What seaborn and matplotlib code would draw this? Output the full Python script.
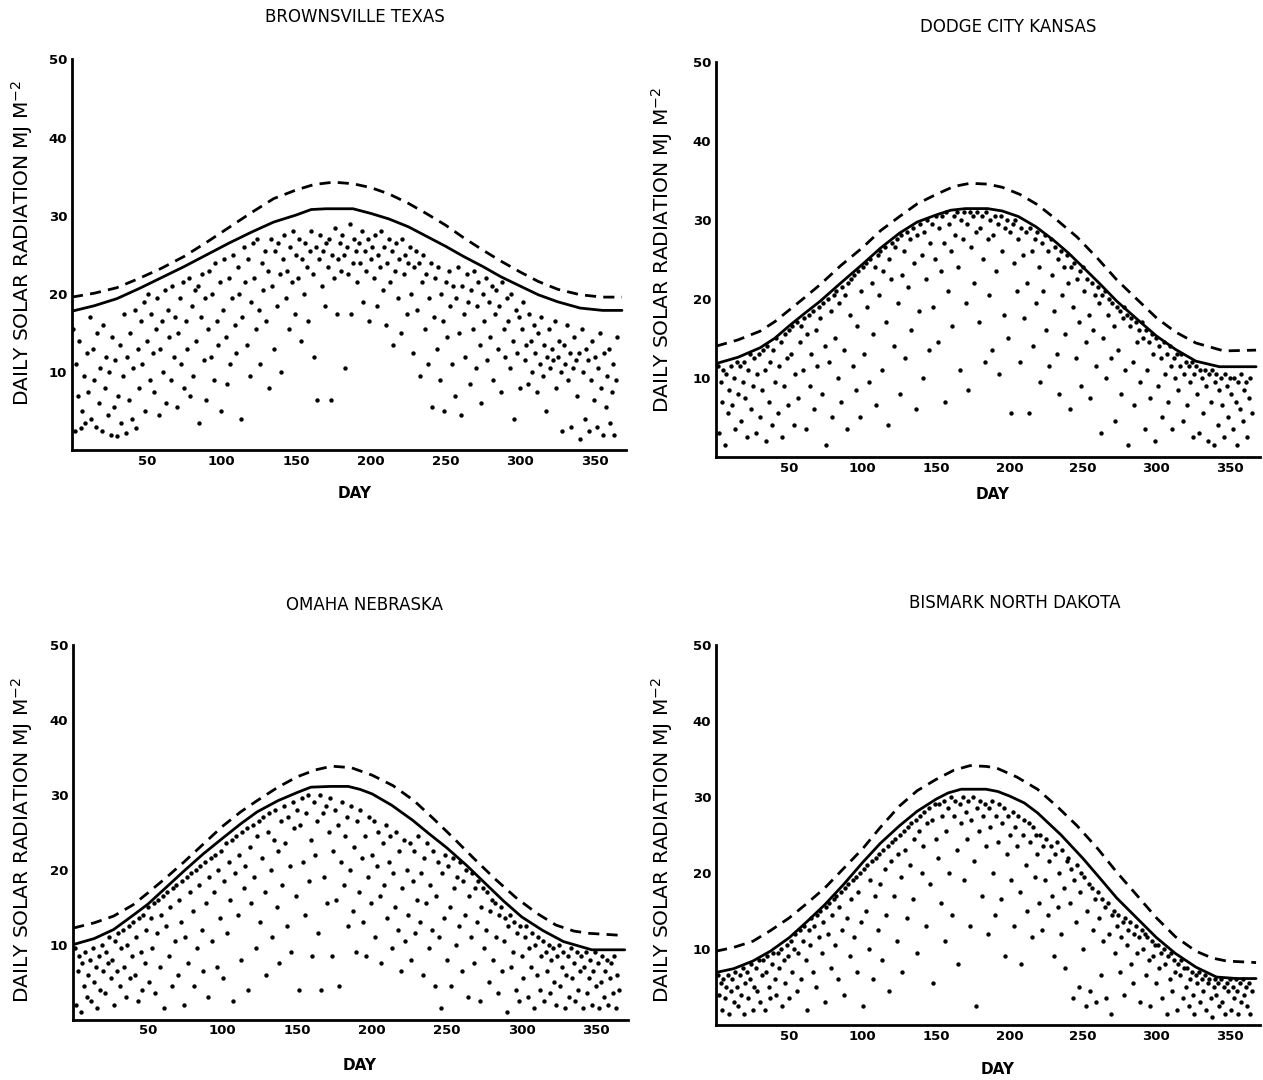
import numpy as np
import matplotlib
matplotlib.use("Agg")
import matplotlib.pyplot as plt
import seaborn as sns

# day of year for the daily observations
DAYS = np.arange(1, 366)

# ── Brownsville, Texas ─────────────────────────────
BRO_MJ = [
    15.5, 2.5, 11.0, 7.0, 14.0, 2.8, 5.0, 9.5, 3.5, 12.5,
    7.5, 17.0, 4.0, 13.0, 9.0, 3.0, 15.0, 6.0, 10.5, 2.5,
    16.0, 8.0, 12.0, 4.5, 10.0, 2.0, 14.5, 5.5, 11.5, 1.8,
    7.0, 13.5, 3.5, 9.5, 17.5, 2.2, 12.0, 6.5, 15.0, 4.0,
    10.5, 18.0, 2.8, 13.0, 8.0, 16.5, 11.0, 19.0, 5.0, 14.0,
    20.0, 9.0, 17.5, 12.5, 7.5, 15.5, 19.5, 4.5, 13.0, 16.5,
    10.0, 20.5, 6.0, 18.0, 14.5, 9.0, 21.0, 12.0, 17.0, 5.5,
    15.0, 19.5, 11.0, 21.5, 8.0, 16.5, 13.0, 22.0, 7.0, 18.5,
    9.5, 20.5, 14.0, 21.0, 3.5, 17.0, 22.5, 11.5, 19.5, 6.5,
    15.5, 23.0, 12.0, 20.0, 9.0, 24.0, 16.5, 13.5, 21.5, 5.0,
    18.0, 24.5, 14.5, 8.5, 22.0, 11.0, 19.5, 25.0, 16.0, 12.5,
    23.5, 20.0, 4.0, 17.0, 26.0, 21.5, 13.5, 24.5, 9.5, 19.0,
    26.5, 22.0, 15.5, 27.0, 18.0, 11.0, 24.0, 20.5, 25.5, 16.5,
    23.0, 8.0, 27.0, 21.0, 13.0, 25.5, 18.5, 26.5, 22.5, 10.0,
    24.5, 27.5, 19.5, 23.0, 15.5, 26.0, 21.5, 28.0, 17.5, 25.0,
    22.0, 27.0, 14.0, 24.5, 20.0, 26.5, 23.5, 16.5, 25.5, 28.0,
    22.5, 12.0, 26.0, 6.5, 24.5, 27.5, 21.0, 25.5, 18.5, 26.5,
    23.5, 27.0, 6.5, 25.0, 22.0, 28.5, 17.5, 24.5, 26.5, 23.0,
    27.5, 25.0, 10.5, 26.0, 22.5, 29.0, 17.5, 24.0, 27.0, 25.5,
    21.5, 26.5, 24.0, 28.0, 19.0, 25.5, 23.0, 27.0, 16.5, 24.5,
    26.0, 22.0, 27.5, 18.5, 25.0, 23.5, 28.0, 20.5, 26.0, 16.0,
    24.0, 27.0, 21.5, 25.5, 13.5, 23.0, 26.5, 19.5, 24.5, 15.0,
    27.0, 22.5, 25.0, 17.5, 24.0, 26.0, 20.0, 12.5, 23.5, 25.5,
    18.0, 24.0, 9.5, 21.5, 25.0, 15.5, 22.5, 11.0, 19.5, 24.0,
    5.5, 17.0, 22.0, 13.0, 23.5, 9.0, 20.0, 16.5, 5.0, 21.5,
    14.5, 23.0, 18.5, 11.0, 21.0, 7.0, 19.5, 23.5, 15.0, 4.5,
    21.0, 17.5, 12.0, 22.5, 19.0, 8.5, 20.5, 15.5, 23.0, 10.5,
    18.5, 21.5, 13.5, 6.0, 20.0, 16.5, 22.0, 11.5, 19.0, 14.5,
    21.0, 9.0, 17.5, 20.5, 13.0, 18.5, 7.5, 21.5, 15.5, 12.0,
    19.5, 16.5, 10.5, 20.0, 14.0, 4.0, 18.0, 12.5, 17.0, 8.0,
    15.5, 19.0, 11.5, 13.5, 8.5, 17.5, 14.0, 10.0, 16.0, 12.5,
    7.5, 15.0, 11.0, 17.0, 9.5, 13.5, 5.0, 12.0, 15.5, 10.5,
    13.0, 11.5, 16.5, 8.0, 12.0, 14.0, 10.0, 2.5, 13.5, 11.0,
    16.0, 9.0, 12.5, 3.0, 10.5, 14.5, 11.5, 7.0, 12.5, 1.5,
    15.5, 10.0, 4.0, 13.0, 11.5, 2.5, 9.0, 14.0, 6.5, 12.0,
    3.0, 10.5, 15.0, 8.0, 2.0, 12.5, 5.5, 9.5, 13.0, 3.5,
    7.5, 11.0, 2.0, 9.0, 14.5,
]
BRO_CLEAR_DAYS = [0, 15, 30, 45, 60, 75, 90, 105, 120, 135, 150, 160, 170, 188, 200, 212,
                  225, 237, 250, 262, 275, 287, 300, 312, 325, 340, 355, 368]
BRO_CLEAR_MJ = [17.8, 18.5, 19.4, 20.7, 22.1, 23.5, 25.0, 26.5, 27.9, 29.2, 30.1, 30.8, 30.9, 30.9,
                30.3, 29.6, 28.6, 27.4, 26.1, 24.8, 23.5, 22.2, 21.0, 19.9, 19.0, 18.2, 17.9, 17.9]
BRO_TOP_DAYS = [0, 15, 30, 45, 60, 75, 90, 105, 120, 135, 150, 162, 175, 188, 200, 212,
                225, 237, 250, 262, 275, 287, 300, 312, 325, 340, 355, 368]
BRO_TOP_MJ = [19.6, 20.1, 20.8, 22.0, 23.3, 24.8, 26.6, 28.5, 30.4, 32.2, 33.3, 34.0, 34.3, 34.1,
              33.6, 32.8, 31.6, 30.3, 28.8, 27.2, 25.6, 24.2, 22.8, 21.6, 20.6, 19.9, 19.6, 19.6]

# ── Dodge City, Kansas ─────────────────────────────
DDC_MJ = [
    11.5, 3.0, 9.5, 7.0, 11.0, 1.5, 10.5, 5.5, 8.5, 11.5,
    6.5, 10.0, 3.5, 12.0, 8.0, 11.5, 4.5, 9.5, 12.0, 7.5,
    2.5, 11.0, 13.0, 6.0, 9.0, 12.5, 3.0, 10.5, 13.0, 5.0,
    8.5, 13.5, 11.0, 2.0, 14.0, 7.0, 12.0, 4.0, 13.5, 9.5,
    15.0, 5.5, 11.5, 14.5, 2.5, 9.0, 15.5, 12.5, 6.5, 16.0,
    13.0, 16.5, 4.0, 10.5, 17.0, 7.5, 14.5, 16.5, 11.0, 17.5,
    3.5, 15.5, 18.0, 9.0, 13.0, 18.5, 6.0, 16.0, 11.5, 19.0,
    17.5, 8.0, 19.5, 14.0, 1.5, 20.0, 12.0, 18.5, 5.0, 20.5,
    15.0, 21.0, 10.0, 19.5, 7.0, 21.5, 13.5, 20.5, 3.5, 22.0,
    18.0, 22.5, 11.5, 23.0, 8.5, 16.5, 23.5, 5.0, 21.0, 24.0,
    13.0, 24.5, 19.0, 9.5, 25.0, 22.0, 15.5, 24.0, 6.5, 25.5,
    20.5, 26.0, 11.0, 23.5, 26.5, 17.0, 4.0, 25.0, 22.5, 27.0,
    14.0, 26.5, 27.5, 19.5, 8.0, 28.0, 23.0, 26.0, 12.5, 28.5,
    21.5, 27.5, 16.0, 29.0, 24.5, 6.0, 28.0, 18.5, 29.5, 25.5,
    10.0, 28.5, 22.5, 30.0, 13.5, 27.0, 29.5, 19.0, 25.0, 30.5,
    14.5, 29.0, 23.5, 30.5, 27.0, 7.0, 31.0, 21.0, 29.5, 26.0,
    16.5, 30.5, 28.0, 31.0, 24.0, 11.0, 30.0, 27.5, 31.0, 19.5,
    29.5, 8.5, 31.0, 26.5, 30.5, 22.0, 28.5, 31.0, 17.0, 29.0,
    30.5, 25.0, 12.0, 31.0, 27.5, 20.5, 30.0, 13.5, 28.0, 30.5,
    23.5, 29.5, 10.5, 30.5, 26.0, 18.0, 29.0, 30.0, 15.0, 28.5,
    5.5, 29.5, 24.5, 30.0, 21.0, 27.5, 12.0, 29.0, 25.5, 17.5,
    28.5, 22.0, 5.5, 29.0, 26.0, 14.0, 27.5, 19.5, 28.5, 24.0,
    9.5, 27.0, 21.0, 28.0, 16.0, 26.0, 11.5, 27.5, 23.0, 18.5,
    26.5, 13.0, 25.0, 8.0, 26.0, 20.5, 24.0, 15.5, 25.5, 22.0,
    6.0, 24.0, 19.0, 24.5, 12.5, 22.5, 17.0, 23.5, 9.0, 24.0,
    21.0, 14.5, 22.5, 18.0, 7.5, 22.0, 16.0, 20.5, 11.5, 21.5,
    19.5, 3.0, 20.5, 15.0, 21.0, 10.0, 18.0, 20.0, 12.5, 19.5,
    16.5, 4.5, 19.0, 13.5, 18.5, 8.0, 17.5, 19.0, 11.0, 18.0,
    1.5, 16.5, 17.5, 12.0, 6.5, 17.0, 14.5, 16.0, 9.5, 17.0,
    15.0, 3.5, 16.0, 11.0, 14.5, 7.5, 15.5, 13.0, 2.0, 15.0,
    9.0, 14.0, 12.5, 5.0, 14.5, 10.5, 13.0, 7.0, 14.0, 11.5,
    3.5, 12.5, 10.0, 13.0, 8.5, 11.5, 13.0, 4.5, 10.5, 12.0,
    6.5, 11.5, 9.5, 12.0, 2.5, 10.5, 11.5, 8.0, 3.0, 11.0,
    10.0, 5.5, 11.0, 9.0, 2.0, 10.5, 7.0, 11.0, 1.5, 9.5,
    10.5, 4.0, 8.5, 10.0, 6.5, 2.5, 10.5, 9.0, 5.0, 10.0,
    8.0, 3.5, 10.0, 7.0, 1.5, 9.5, 6.0, 10.5, 4.5, 8.5,
    9.5, 2.5, 7.5, 10.0, 5.5,
]
DDC_CLEAR_DAYS = [0, 15, 30, 40, 50, 60, 71, 85, 100, 112, 125, 137, 150, 160, 170, 185, 195,
                  206, 218, 230, 240, 250, 262, 273, 287, 300, 313, 327, 343, 368]
DDC_CLEAR_MJ = [11.8, 12.6, 13.8, 15.0, 16.6, 18.1, 19.7, 22.0, 24.4, 26.4, 28.3, 29.7, 30.6, 31.2,
                31.4, 31.4, 31.1, 30.4, 29.1, 27.4, 25.8, 24.0, 21.8, 19.7, 17.4, 15.3, 13.6, 12.1,
                11.4, 11.4]
DDC_TOP_DAYS = [0, 15, 30, 40, 50, 60, 71, 85, 100, 112, 125, 137, 150, 162, 173, 185, 195,
                207, 219, 232, 246, 260, 273, 287, 300, 313, 327, 346, 368]
DDC_TOP_MJ = [14.0, 14.8, 15.9, 17.1, 18.6, 20.1, 21.8, 24.2, 26.5, 28.6, 30.4, 32.0, 33.2, 34.2,
              34.6, 34.5, 34.1, 33.2, 31.9, 30.0, 27.8, 25.1, 22.4, 19.9, 17.6, 15.8, 14.4, 13.4,
              13.5]

# ── Omaha, Nebraska ────────────────────────────────
OMA_MJ = [
    9.5, 2.0, 6.5, 8.5, 1.0, 7.5, 4.5, 9.0, 3.0, 6.0,
    8.0, 2.5, 9.5, 5.0, 7.0, 1.5, 8.5, 4.0, 10.0, 6.5,
    3.5, 9.0, 7.5, 11.0, 5.5, 8.0, 2.0, 10.5, 6.5, 11.5,
    4.5, 9.5, 12.0, 7.0, 3.0, 10.0, 12.5, 5.5, 8.5, 13.0,
    6.0, 11.0, 2.5, 13.5, 9.0, 4.0, 14.0, 7.5, 12.0, 15.0,
    5.0, 13.5, 9.5, 15.5, 3.5, 11.5, 16.0, 7.0, 14.0, 16.5,
    1.5, 12.5, 17.0, 8.5, 15.0, 4.5, 17.5, 10.5, 18.0, 6.0,
    16.0, 13.0, 18.5, 2.0, 11.0, 19.0, 7.5, 17.0, 19.5, 14.5,
    4.5, 20.0, 9.5, 18.0, 20.5, 12.0, 6.5, 21.0, 15.5, 3.0,
    19.0, 21.5, 10.5, 17.0, 22.0, 7.0, 20.0, 13.5, 22.5, 5.5,
    18.5, 23.5, 11.5, 21.0, 16.0, 24.0, 2.5, 19.5, 24.5, 14.0,
    22.0, 8.0, 25.0, 17.5, 20.5, 25.5, 4.0, 23.0, 15.5, 26.0,
    19.0, 9.5, 24.5, 26.5, 13.0, 21.5, 27.0, 17.0, 6.0, 25.0,
    27.5, 20.0, 11.0, 24.0, 28.0, 15.0, 22.5, 7.5, 26.5, 18.0,
    28.5, 23.5, 12.5, 27.0, 20.5, 9.0, 29.0, 25.5, 16.5, 28.0,
    4.0, 26.0, 29.5, 21.0, 14.0, 27.5, 30.0, 18.5, 24.0, 8.5,
    29.0, 22.0, 26.5, 11.5, 30.0, 4.0, 27.5, 19.0, 28.5, 15.5,
    25.0, 29.5, 8.5, 22.5, 28.0, 16.0, 26.0, 4.5, 21.0, 29.0,
    18.0, 24.5, 27.0, 12.5, 20.0, 28.5, 14.5, 23.0, 9.0, 26.5,
    17.0, 28.0, 21.5, 13.0, 24.5, 8.5, 19.0, 27.0, 15.5, 22.0,
    26.5, 11.0, 20.5, 25.0, 16.5, 7.5, 23.5, 18.0, 26.0, 13.5,
    21.0, 24.5, 9.5, 19.5, 15.0, 25.0, 12.0, 22.5, 6.5, 17.5,
    24.0, 10.5, 20.0, 14.0, 23.5, 8.0, 18.5, 22.5, 11.5, 16.0,
    24.5, 13.0, 19.5, 6.0, 21.5, 15.5, 23.5, 9.5, 18.0, 12.0,
    22.5, 4.5, 16.5, 21.0, 11.0, 1.5, 19.5, 13.5, 22.0, 8.0,
    20.5, 15.0, 4.5, 21.5, 17.5, 10.0, 19.0, 12.5, 21.0, 6.5,
    18.5, 14.0, 20.0, 3.0, 16.5, 11.0, 19.5, 7.5, 17.5, 13.0,
    18.5, 2.5, 15.0, 17.5, 9.5, 12.0, 17.0, 5.0, 14.5, 16.0,
    8.0, 15.5, 11.0, 3.5, 14.0, 15.0, 6.5, 10.5, 13.5, 1.0,
    12.5, 14.0, 7.0, 9.0, 13.0, 4.0, 11.5, 2.5, 12.5, 8.5,
    5.5, 11.0, 12.5, 3.0, 9.5, 7.0, 11.5, 1.5, 10.0, 6.0,
    11.0, 4.0, 8.5, 10.5, 2.5, 9.0, 6.5, 10.0, 3.5, 8.0,
    9.5, 5.0, 2.0, 8.5, 10.0, 4.5, 7.0, 9.0, 1.5, 6.0,
    8.5, 3.0, 9.5, 5.5, 7.5, 2.5, 9.0, 4.0, 6.5, 8.5,
    1.5, 7.0, 9.0, 3.5, 5.5, 8.0, 2.0, 6.5, 9.0, 4.5,
    7.5, 1.5, 5.0, 8.5, 3.0, 6.5, 8.0, 2.0, 5.5, 7.5,
    3.5, 8.5, 1.5, 6.0, 4.0,
]
OMA_CLEAR_DAYS = [0, 14, 27, 40, 50, 62, 74, 87, 100, 112, 123, 137, 150, 159, 172, 184, 192,
                  200, 213, 227, 238, 250, 263, 276, 288, 300, 314, 328, 347, 369]
OMA_CLEAR_MJ = [10.0, 10.8, 12.0, 13.9, 15.4, 17.6, 19.8, 22.1, 24.2, 26.1, 27.7, 29.2, 30.3, 31.0,
                31.1, 31.1, 30.7, 30.1, 28.6, 26.6, 24.8, 22.9, 20.6, 18.1, 15.8, 13.7, 11.9, 10.4,
                9.3, 9.3]
OMA_TOP_DAYS = [0, 14, 27, 40, 50, 62, 74, 87, 100, 112, 123, 137, 150, 162, 173, 186, 200,
                214, 228, 241, 255, 268, 282, 296, 310, 323, 335, 345, 369]
OMA_TOP_MJ = [12.2, 12.9, 13.8, 15.3, 16.9, 18.9, 21.0, 23.4, 25.8, 27.7, 29.2, 31.0, 32.4, 33.3,
              33.8, 33.6, 32.6, 31.2, 29.2, 26.8, 24.1, 21.5, 18.8, 16.3, 14.2, 12.6, 11.8, 11.5,
              11.2]

# ── Bismark, North Dakota ──────────────────────────
BIS_MJ = [
    6.5, 4.0, 5.5, 2.0, 6.0, 3.5, 5.0, 6.5, 1.5, 4.5,
    6.0, 3.0, 7.0, 5.0, 2.5, 6.5, 4.0, 7.5, 1.5, 5.5,
    7.0, 3.5, 6.0, 8.0, 2.0, 5.0, 7.5, 4.5, 8.5, 3.0,
    6.5, 8.5, 2.0, 7.0, 9.0, 5.0, 3.5, 8.0, 9.5, 6.0,
    4.0, 9.5, 7.5, 10.0, 2.5, 8.5, 5.5, 10.5, 9.0, 3.5,
    11.0, 7.0, 10.0, 12.0, 4.5, 9.5, 12.5, 6.0, 11.0, 13.0,
    8.5, 2.0, 12.5, 10.5, 14.0, 7.0, 13.0, 5.0, 14.5, 11.5,
    15.0, 9.5, 13.5, 3.0, 15.5, 12.0, 16.0, 7.5, 14.5, 16.5,
    10.5, 17.0, 6.0, 15.5, 17.5, 12.5, 4.0, 18.0, 14.0, 18.5,
    9.0, 16.5, 19.0, 11.5, 19.5, 7.0, 17.5, 20.0, 13.5, 2.5,
    20.5, 15.0, 21.0, 10.0, 19.0, 21.5, 6.0, 17.0, 22.0, 12.5,
    22.5, 18.5, 8.5, 23.0, 20.5, 14.5, 23.5, 4.5, 21.5, 24.0,
    17.0, 24.5, 11.0, 22.5, 25.0, 19.5, 7.0, 25.5, 23.0, 14.0,
    26.0, 21.0, 26.5, 16.5, 24.5, 27.0, 9.5, 25.5, 27.5, 20.0,
    23.5, 28.0, 13.0, 26.5, 28.5, 18.5, 27.0, 5.5, 29.0, 24.5,
    22.0, 29.0, 16.0, 27.5, 29.5, 11.0, 25.5, 28.5, 20.0, 30.0,
    14.5, 27.5, 29.5, 23.0, 8.0, 29.0, 26.5, 30.0, 19.0, 28.0,
    24.5, 29.5, 13.0, 27.0, 30.0, 21.5, 2.5, 28.5, 25.5, 29.5,
    17.0, 27.5, 29.0, 23.5, 12.0, 28.5, 26.0, 29.5, 20.0, 14.5,
    27.5, 24.0, 29.0, 16.5, 26.5, 28.5, 9.0, 22.5, 27.5, 25.0,
    19.0, 28.0, 13.0, 26.0, 23.5, 27.5, 17.5, 8.0, 25.0, 27.0,
    21.0, 15.0, 26.5, 24.0, 11.5, 26.0, 19.5, 25.0, 22.5, 16.0,
    25.0, 12.5, 23.5, 19.0, 24.5, 14.5, 21.5, 23.5, 17.0, 9.0,
    22.5, 24.0, 15.5, 20.0, 12.0, 23.0, 18.0, 7.5, 21.5, 22.0,
    16.0, 20.5, 3.5, 19.0, 13.5, 21.0, 5.0, 17.5, 20.0, 10.0,
    19.5, 2.5, 15.0, 18.5, 4.5, 18.0, 12.5, 16.5, 3.0, 17.5,
    14.0, 6.5, 16.5, 11.0, 15.5, 3.5, 16.0, 12.0, 1.5, 14.5,
    15.0, 9.5, 13.0, 14.5, 7.0, 11.5, 13.5, 4.0, 14.0, 10.5,
    12.5, 13.5, 8.0, 5.5, 12.0, 13.0, 9.5, 11.5, 3.0, 12.5,
    10.0, 12.0, 6.5, 11.5, 8.5, 2.5, 11.0, 9.0, 10.5, 5.5,
    10.5, 7.5, 9.5, 3.5, 10.0, 8.0, 1.5, 9.0, 6.0, 9.5,
    4.5, 8.5, 7.0, 2.0, 8.0, 6.5, 8.5, 3.5, 7.5, 5.0,
    7.5, 2.5, 6.0, 7.0, 4.0, 1.5, 6.5, 5.5, 7.0, 3.0,
    6.0, 4.5, 6.5, 2.0, 5.5, 6.0, 3.5, 1.0, 5.0, 6.0,
    4.0, 5.5, 2.5, 6.0, 3.0, 5.0, 1.5, 5.5, 4.5, 6.0,
    2.0, 5.0, 3.5, 6.0, 4.5, 1.5, 5.5, 3.0, 6.0, 4.0,
    5.0, 2.5, 5.5, 1.5, 4.5,
]
BIS_CLEAR_DAYS = [0, 12, 25, 37, 50, 62, 74, 87, 100, 112, 125, 137, 150, 158, 167, 184, 192,
                  200, 210, 219, 235, 250, 262, 273, 287, 300, 313, 327, 341, 355, 368]
BIS_CLEAR_MJ = [6.9, 7.4, 8.4, 9.7, 11.5, 13.6, 15.8, 18.5, 21.4, 23.9, 26.2, 28.1, 29.7, 30.5,
                31.0, 31.0, 30.7, 30.1, 29.2, 27.9, 25.0, 21.9, 19.2, 16.7, 14.0, 11.5, 9.4, 7.6,
                6.3, 6.1, 6.1]
BIS_TOP_DAYS = [0, 12, 25, 37, 50, 62, 74, 87, 100, 112, 125, 137, 150, 162, 173, 184, 191,
                205, 219, 232, 246, 260, 273, 287, 300, 313, 327, 338, 348, 368]
BIS_TOP_MJ = [9.7, 10.2, 11.0, 12.4, 14.1, 16.0, 18.0, 20.6, 23.2, 26.0, 28.8, 30.8, 32.3, 33.5,
              34.1, 34.0, 33.8, 32.6, 31.0, 28.8, 26.2, 23.2, 20.1, 17.0, 14.1, 11.6, 9.7, 8.8,
              8.4, 8.2]

STATIONS = ["BROWNSVILLE TEXAS", "DODGE CITY KANSAS", "OMAHA NEBRASKA", "BISMARK NORTH DAKOTA"]
X_TICKS = [50, 100, 150, 200, 250, 300, 350]
Y_TICKS = [10, 20, 30, 40, 50]
Y_LABEL = "DAILY SOLAR RADIATION MJ M$^{-2}$"


def draw_panel(ax, mj, clear_days, clear_mj, top_days, top_mj):
    sns.scatterplot(x=DAYS, y=mj, ax=ax, color="black", s=10, linewidth=0, legend=False)
    sns.lineplot(x=clear_days, y=clear_mj, ax=ax, color="black", lw=2.0)
    sns.lineplot(x=top_days, y=top_mj, ax=ax, color="black", lw=2.0)
    ax.lines[-1].set_dashes((4, 2.6))

    ax.set_xlim(0, 371)
    ax.set_ylim(0, 50)
    ax.set_xticks(X_TICKS)
    ax.set_yticks(Y_TICKS)
    ax.set_xlabel("")
    ax.set_ylabel("")
    sns.despine(ax=ax)
    for side in ("left", "bottom"):
        ax.spines[side].set_linewidth(2.0)
        ax.spines[side].set_color("black")
    ax.tick_params(direction="inout", length=5, width=2, labelsize=9.5, pad=1,
                   color="black", labelcolor="black")
    for lab in ax.get_xticklabels() + ax.get_yticklabels():
        lab.set_fontweight("bold")


sns.set_style("white")
plt.rcParams["font.family"] = ["DejaVu Sans"]
plt.rcParams["text.color"] = "black"

fig = plt.figure(figsize=(12.63, 10.8), dpi=100)

# axes boxes in figure fractions (left, bottom, width, height)
boxes = [
    (0.057, 0.583, 0.439, 0.362),
    (0.567, 0.577, 0.431, 0.366),
    (0.058, 0.056, 0.439, 0.347),
    (0.567, 0.051, 0.431, 0.352),
]
series = [
    (BRO_MJ, BRO_CLEAR_DAYS, BRO_CLEAR_MJ, BRO_TOP_DAYS, BRO_TOP_MJ),
    (DDC_MJ, DDC_CLEAR_DAYS, DDC_CLEAR_MJ, DDC_TOP_DAYS, DDC_TOP_MJ),
    (OMA_MJ, OMA_CLEAR_DAYS, OMA_CLEAR_MJ, OMA_TOP_DAYS, OMA_TOP_MJ),
    (BIS_MJ, BIS_CLEAR_DAYS, BIS_CLEAR_MJ, BIS_TOP_DAYS, BIS_TOP_MJ),
]
# title (x, y), DAY label (x, y), y-label (x, y) in pixels from top-left
text_pos = [
    ((355, 17), (355, 493), (22, 243)),
    ((1008, 27), (993, 495), (662, 250)),
    ((365, 605), (360, 1065), (22, 840)),
    ((1015, 603), (998, 1070), (662, 840)),
]

W, H = 1263, 1080
for box, data, name, (tpos, dpos, ypos) in zip(boxes, series, STATIONS, text_pos):
    ax = fig.add_axes(box)
    draw_panel(ax, *data)
    fig.text(tpos[0] / W, 1 - tpos[1] / H, name, ha="center", va="center", fontsize=12)
    fig.text(dpos[0] / W, 1 - dpos[1] / H, "DAY", ha="center", va="center",
             fontsize=11, fontweight="bold")
    fig.text(ypos[0] / W, 1 - ypos[1] / H, Y_LABEL, ha="center", va="center",
             rotation=90, fontsize=14.5)

fig.savefig("out.png", dpi=100, facecolor="white")
